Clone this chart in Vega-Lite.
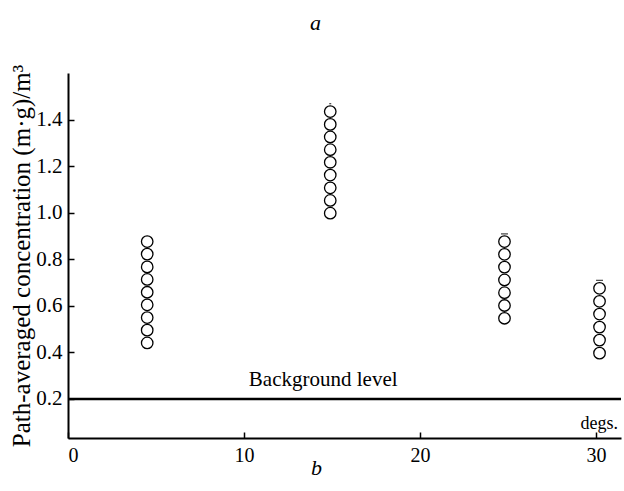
{
  "$schema": "https://vega.github.io/schema/vega-lite/v6.json",
  "width": 553,
  "height": 365,
  "autosize": {"type": "none"},
  "padding": {"left": 68, "top": 73, "right": 3, "bottom": 53},
  "background": "white",
  "config": {
    "view": {"stroke": null},
    "font": "Liberation Serif",
    "axis": {"grid": false, "domainColor": "black", "domainWidth": 2, "tickColor": "black", "tickWidth": 1.5, "tickSize": -6, "labelColor": "black", "labelFont": "Liberation Serif", "labelFontSize": 20, "titleColor": "black", "titleFont": "Liberation Serif", "titleFontWeight": "normal"}
  },
  "title": {"text": "a", "font": "Liberation Serif", "fontStyle": "italic", "fontWeight": "normal", "fontSize": 22, "color": "black", "anchor": "middle", "baseline": "alphabetic", "offset": 9, "dx": -29},
  "datasets": {
    "pts": [
      {"angle": 4.5, "conc": 0.441}, {"angle": 4.5, "conc": 0.496}, {"angle": 4.5, "conc": 0.550}, {"angle": 4.5, "conc": 0.605}, {"angle": 4.5, "conc": 0.659}, {"angle": 4.5, "conc": 0.714}, {"angle": 4.5, "conc": 0.768}, {"angle": 4.5, "conc": 0.823}, {"angle": 4.5, "conc": 0.877},
      {"angle": 14.9, "conc": 0.999}, {"angle": 14.9, "conc": 1.054}, {"angle": 14.9, "conc": 1.108}, {"angle": 14.9, "conc": 1.163}, {"angle": 14.9, "conc": 1.218}, {"angle": 14.9, "conc": 1.272}, {"angle": 14.9, "conc": 1.327}, {"angle": 14.9, "conc": 1.381}, {"angle": 14.9, "conc": 1.436},
      {"angle": 24.8, "conc": 0.547}, {"angle": 24.8, "conc": 0.602}, {"angle": 24.8, "conc": 0.657}, {"angle": 24.8, "conc": 0.712}, {"angle": 24.8, "conc": 0.767}, {"angle": 24.8, "conc": 0.822}, {"angle": 24.8, "conc": 0.877},
      {"angle": 30.2, "conc": 0.397}, {"angle": 30.2, "conc": 0.453}, {"angle": 30.2, "conc": 0.509}, {"angle": 30.2, "conc": 0.565}, {"angle": 30.2, "conc": 0.620}, {"angle": 30.2, "conc": 0.676}
    ]
  },
  "layer": [
    {
      "data": {"name": "pts"},
      "mark": {"type": "point", "shape": "circle", "filled": false, "stroke": "black", "strokeWidth": 1.3, "size": 132, "opacity": 1},
      "encoding": {
        "x": {"field": "angle", "type": "quantitative", "scale": {"domain": [0, 31.42], "nice": false, "zero": false},
          "axis": {"values": [0, 10, 20, 30], "labelPadding": 13, "title": "b", "titleFontStyle": "italic", "titleFontSize": 22, "titleX": 248, "titleY": 36, "titleBaseline": "alphabetic", "titleAnchor": "start", "titleAlign": "center"}},
        "y": {"field": "conc", "type": "quantitative", "scale": {"domain": [0.032, 1.602], "nice": false, "zero": false},
          "axis": {"values": [0.2, 0.4, 0.6, 0.8, 1.0, 1.2, 1.4], "format": ".1f", "labelPadding": 12, "labelFontSize": 21, "title": "Path-averaged  concentration (m·g)/m³", "titleFontSize": 25, "titleX": -34, "titleBaseline": "bottom"}}
      }
    },
    {
      "data": {"values": [{"level": 0.2}]},
      "mark": {"type": "rule", "color": "black", "strokeWidth": 2.5},
      "encoding": {"y": {"field": "level", "type": "quantitative"}}
    },
    {
      "data": {"values": [{"angle": 24.8, "conc": 0.91}, {"angle": 30.2, "conc": 0.71}]},
      "mark": {"type": "tick", "orient": "horizontal", "color": "black", "thickness": 1.3, "size": 7},
      "encoding": {
        "x": {"field": "angle", "type": "quantitative"},
        "y": {"field": "conc", "type": "quantitative"}
      }
    },
    {
      "data": {"values": [{"angle": 14.9, "conc": 1.47}]},
      "mark": {"type": "tick", "orient": "horizontal", "color": "black", "thickness": 1.3, "size": 2},
      "encoding": {
        "x": {"field": "angle", "type": "quantitative"},
        "y": {"field": "conc", "type": "quantitative"}
      }
    },
    {
      "data": {"values": [{"angle": 14.5, "conc": 0.282, "text": "Background level"}]},
      "mark": {"type": "text", "color": "black", "baseline": "middle", "align": "center", "font": "Liberation Serif", "fontSize": 21},
      "encoding": {
        "x": {"field": "angle", "type": "quantitative"},
        "y": {"field": "conc", "type": "quantitative"},
        "text": {"field": "text"}
      }
    },
    {
      "data": {"values": [{"angle": 31.25, "conc": 0.092, "text": "degs."}]},
      "mark": {"type": "text", "color": "black", "baseline": "middle", "align": "right", "font": "Liberation Serif", "fontSize": 18},
      "encoding": {
        "x": {"field": "angle", "type": "quantitative"},
        "y": {"field": "conc", "type": "quantitative"},
        "text": {"field": "text"}
      }
    }
  ]
}
